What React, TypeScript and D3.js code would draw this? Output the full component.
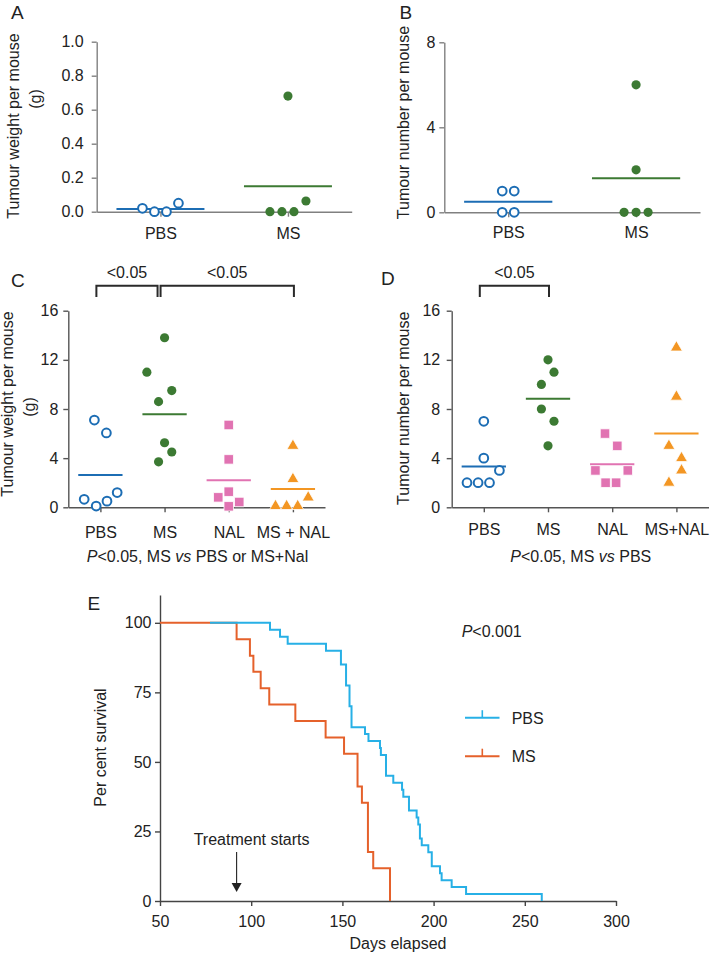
import React, { useEffect, useRef } from "react";
import * as d3 from "d3";

const FONT = "'Liberation Sans', Arial, Helvetica, sans-serif";

// ---------- A / B: PBS vs MS ----------
const groupsAB = ["PBS", "MS"];
const weightA = [
  [0.02, 0.0, 0.0, 0.05], // PBS
  [0.68, 0.0, 0.0, 0.0, 0.063], // MS
];
const weightMeansA = [0.016, 0.15];
const numberB = [
  [1, 1, 0, 0],
  [6, 2, 0, 0, 0],
];
const numberMeansB = [0.5, 1.6];

// ---------- C / D: four treatment groups ----------
const groupsC = ["PBS", "MS", "NAL", "MS + NAL"];
const groupsD = ["PBS", "MS", "NAL", "MS+NAL"];
const weightC = [
  [7.1, 6.05, 0.65, 0.1, 0.5, 1.2],
  [13.8, 11.0, 9.5, 8.6, 5.25, 4.5, 3.7],
  [6.7, 3.9, 1.27, 0.81, 0.43, 0.08],
  [5.0, 2.3, 0.8, 0.1, 0.1, 0.1],
];
const weightMeansC = [2.62, 7.57, 2.2, 1.48];
const numberD = [
  [7, 4, 3, 2, 2, 2],
  [12, 11, 10, 8, 7, 5],
  [6, 5, 3, 3, 2, 2],
  [13, 9, 5, 4, 3, 2],
];
const numberMeansD = [3.33, 8.83, 3.5, 6.0];

// sideways spread of overlapping points, in marker half-widths (as placed in the figure)
const spreadA = [
  [-3, -1, 1, 3],
  [0, -3, -1, 1, 3],
];
const spreadB = [
  [-1, 1, -1, 1],
  [0, 0, -2, 0, 2],
];
const spreadC = [
  [-1, 1, -2.7, -0.7, 1.1, 2.8],
  [0, -2.95, 1.2, -1, 0, 1.2, -1],
  [0, 0, 0, -1.75, 1.75, 0],
  [0, 0, 2.55, -2.9, -1.05, 0.8],
];
const spreadD = [
  [0, 0, 2.6, -2.8, -0.95, 0.95],
  [0, 1, -1.1, -1.1, 1, 0],
  [-1.2, 0.85, -2.8, 2.6, -1.1, 0.65],
  [0, 0, -1.25, 0.85, 0.85, -1.25],
];

const markShapes = ["open", "filled", "square", "triangle"];
const markColors = ["#1c6db4", "#3c7a33", "#e173b2", "#f39623"];

// ---------- E: survival ----------
const msDays = [50, 92, 99.3, 101.2, 105.2, 109.9, 124.2, 140.8, 150.9, 158.3, 160.7, 164, 166.9, 176.1];
const msSurvival = [100, 94.1, 88.2, 82.4, 76.5, 70.6, 64.7, 58.8, 52.9, 41.2, 35.3, 17.6, 11.8, 0];
const pbsDays = [
  77.4, 110.3, 115.8, 120, 141, 149.2, 152, 153.9, 155, 162.4, 164.3, 170.6, 171.1, 173.9, 177.9,
  182.7, 183.4, 186.5, 190.7, 191.6, 192.5, 193.5, 197.1, 199, 203.5, 204.4, 209.9, 217.8, 259.3,
];
const pbsSurvival = [
  100, 97.5, 95, 92.5, 90, 85, 77.5, 70, 62.5, 60, 57.5, 55, 52.5, 45, 42.5, 40, 37.5, 32.5, 30,
  27.5, 22.5, 20, 17.5, 12.5, 10, 7.5, 5, 2.5, 0,
];
const survivalTicks = [0, 25, 50, 75, 100];
const dayTicks = [50, 100, 150, 200, 250, 300];
const treatmentDay = 92;

const App = () => {
  const svgRef = useRef(null);

  useEffect(() => {
    const svg = d3.select(svgRef.current);
    svg.selectAll("*").remove();

    const styleAxis = (a, color) => {
      a.attr("font-family", FONT).attr("font-size", 16);
      a.selectAll("path, line").attr("stroke", color).attr("stroke-width", 1.4);
      a.selectAll("text").attr("fill", "#222");
    };

    const richText = (x, y, parts, anchor = "middle", size = 16) => {
      const t = svg
        .append("text")
        .attr("x", x)
        .attr("y", y)
        .attr("text-anchor", anchor)
        .attr("font-family", FONT)
        .attr("font-size", size)
        .attr("fill", "#222");
      parts.forEach(([s, italic]) => {
        t.append("tspan").attr("font-style", italic ? "italic" : "normal").text(s);
      });
    };

    const vLabel = (x, y, s) => {
      svg
        .append("text")
        .attr("transform", `translate(${x},${y}) rotate(-90)`)
        .attr("text-anchor", "middle")
        .attr("font-family", FONT)
        .attr("font-size", 16)
        .attr("fill", "#222")
        .text(s);
    };

    const letter = (x, y, s) => {
      svg
        .append("text")
        .attr("x", x)
        .attr("y", y)
        .attr("font-family", FONT)
        .attr("font-size", 19)
        .attr("fill", "#222")
        .text(s);
    };

    const dotPanel = (p) => {
      const x = d3.scalePoint().domain(p.groups).range(p.xRange).padding(0.5);
      const y = d3.scaleLinear().domain(p.domain).range(p.yRange);
      const spread = d3.scaleLinear().domain([0, 1]).range([0, 6]);
      const g = svg.append("g");

      const ya = g
        .append("g")
        .attr("transform", `translate(${p.xRange[0]},0)`)
        .call(
          d3
            .axisLeft(y)
            .tickValues(p.ticks)
            .tickFormat(p.format)
            .tickSize(5)
            .tickPadding(p.yLabelGap)
            .tickSizeOuter(0),
        );
      const xa = g
        .append("g")
        .attr("transform", `translate(0,${p.yRange[0]})`)
        .call(d3.axisBottom(x).tickSize(5).tickPadding(p.labelGap).tickSizeOuter(0));
      styleAxis(ya, p.axisColor);
      styleAxis(xa, p.axisColor);

      const half = x.step() * 0.345;
      p.groups.forEach((name, i) => {
        const cx = x(name);
        const color = markColors[i];
        const shape = markShapes[i];

        g.append("line")
          .attr("x1", cx - half)
          .attr("x2", cx + half)
          .attr("y1", y(p.means[i]))
          .attr("y2", y(p.means[i]))
          .attr("stroke", color)
          .attr("stroke-width", 2);

        const symType =
          shape === "square" ? d3.symbolSquare : shape === "triangle" ? d3.symbolTriangle : d3.symbolCircle;
        const symSize = shape === "square" ? 90 : shape === "triangle" ? 62 : shape === "open" ? 60 : 66;

        g.append("g")
          .selectAll("path")
          .data(d3.zip(p.values[i], p.spread[i]))
          .join("path")
          .attr("d", d3.symbol(symType, symSize))
          .attr("transform", (d) => `translate(${cx + spread(d[1])},${y(d[0])})`)
          .attr("fill", shape === "open" ? "#fff" : color)
          .attr("stroke", shape === "open" ? color : shape === "filled" ? "none" : "#fff")
          .attr("stroke-width", shape === "open" ? 2 : 0.8);
      });

      (p.brackets || []).forEach(([from, to], k) => {
        const sharedEnd = p.brackets.some(([f]) => f === to);
        const x1 = x(from) - 4;
        const x2 = sharedEnd ? x(to) - 7 : x(to) + 1;
        g.append("path")
          .attr("d", `M${x1},297 V285.7 H${x2} V297`)
          .attr("fill", "none")
          .attr("stroke", "#2a2a2a")
          .attr("stroke-width", 2);
        g.append("text")
          .attr("x", (x1 + x2) / 2)
          .attr("y", 278.3)
          .attr("text-anchor", "middle")
          .attr("font-family", FONT)
          .attr("font-size", 16)
          .attr("fill", "#222")
          .text(p.bracketLabels[k]);
      });
    };

    // A
    dotPanel({
      groups: groupsAB,
      values: weightA,
      spread: spreadA,
      means: weightMeansA,
      xRange: [96.7, 351.7],
      yRange: [211.7, 41.7],
      domain: [0, 1],
      ticks: [0, 0.2, 0.4, 0.6, 0.8, 1.0],
      format: d3.format(".1f"),
      labelGap: 11,
      yLabelGap: 8,
      axisColor: "#808080",
    });
    letter(11, 18.5, "A");
    vLabel(19, 126, "Tumour weight per mouse");
    vLabel(41, 99, "(g)");

    // B
    dotPanel({
      groups: groupsAB,
      values: numberB,
      spread: spreadB,
      means: numberMeansB,
      xRange: [444.3, 700],
      yRange: [212.3, 42.3],
      domain: [0, 8],
      ticks: [0, 4, 8],
      format: d3.format("d"),
      labelGap: 9.5,
      yLabelGap: 4,
      axisColor: "#808080",
    });
    letter(399.5, 18.5, "B");
    vLabel(409, 122.5, "Tumour number per mouse");

    // C
    dotPanel({
      groups: groupsC,
      values: weightC,
      spread: spreadC,
      means: weightMeansC,
      xRange: [68.3, 325],
      yRange: [507.3, 310.7],
      domain: [0, 16],
      ticks: [0, 4, 8, 12, 16],
      format: d3.format("d"),
      labelGap: 14.2,
      yLabelGap: 5,
      axisColor: "#555",
      brackets: [
        ["PBS", "MS"],
        ["MS", "MS + NAL"],
      ],
      bracketLabels: ["<0.05", "<0.05"],
    });
    letter(11, 286.7, "C");
    vLabel(13, 404, "Tumour weight per mouse");
    vLabel(34.5, 407, "(g)");
    richText(197.5, 562, [
      ["P", true],
      ["<0.05, MS ", false],
      ["vs", true],
      [" PBS or MS+Nal", false],
    ]);

    // D
    dotPanel({
      groups: groupsD,
      values: numberD,
      spread: spreadD,
      means: numberMeansD,
      xRange: [451.7, 708.5],
      yRange: [507.3, 310.7],
      domain: [0, 16],
      ticks: [0, 4, 8, 12, 16],
      format: d3.format("d"),
      labelGap: 11,
      yLabelGap: 6.5,
      axisColor: "#555",
      brackets: [["PBS", "MS"]],
      bracketLabels: ["<0.05"],
    });
    letter(381, 285, "D");
    vLabel(409, 408.3, "Tumour number per mouse");
    richText(580.8, 562, [
      ["P", true],
      ["<0.05, MS ", false],
      ["vs", true],
      [" PBS", false],
    ]);

    // E – Kaplan–Meier curves
    const xE = d3.scaleLinear().domain([50, 300]).range([160, 616]);
    const yE = d3.scaleLinear().domain([0, 110]).range([901, 595]);
    const gE = svg.append("g");
    const yaE = gE
      .append("g")
      .attr("transform", `translate(${xE(50)},0)`)
      .call(d3.axisLeft(yE).tickValues(survivalTicks).tickSize(5).tickPadding(3.5).tickSizeOuter(0));
    const xaE = gE
      .append("g")
      .attr("transform", `translate(0,${yE(0)})`)
      .call(d3.axisBottom(xE).tickValues(dayTicks).tickSize(5).tickPadding(9.3).tickSizeOuter(0));
    styleAxis(yaE, "#444");
    styleAxis(xaE, "#444");

    const series = [
      { name: "MS", days: msDays, surv: msSurvival, color: "#e5612b" },
      { name: "PBS", days: pbsDays, surv: pbsSurvival, color: "#27b0e6" },
    ];
    const step = d3
      .line()
      .x((d) => xE(d[0]))
      .y((d) => yE(d[1]))
      .curve(d3.curveStepAfter);
    series.forEach((s) => {
      gE.append("path")
        .attr("d", step(d3.zip(s.days, s.surv)))
        .attr("fill", "none")
        .attr("stroke", s.color)
        .attr("stroke-width", 2);
    });

    // legend (PBS first)
    [series[1], series[0]].forEach((s, i) => {
      const ly = 717.7 + i * 38.5;
      gE.append("line").attr("x1", 465).attr("x2", 499.5).attr("y1", ly).attr("y2", ly)
        .attr("stroke", s.color).attr("stroke-width", 2);
      gE.append("line").attr("x1", 482.3).attr("x2", 482.3).attr("y1", ly).attr("y2", ly - 7.5)
        .attr("stroke", s.color).attr("stroke-width", 1.6);
      gE.append("text").attr("x", 511.7).attr("y", ly + 6).attr("font-family", FONT)
        .attr("font-size", 16).attr("fill", "#222").text(s.name);
    });

    richText(461.7, 637, [["P", true], ["<0.001", false]], "start");

    // treatment arrow
    const ax = xE(treatmentDay);
    gE.append("line").attr("x1", ax).attr("x2", ax).attr("y1", 852).attr("y2", 885)
      .attr("stroke", "#222").attr("stroke-width", 1.1);
    gE.append("path").attr("d", `M${ax - 5},883 L${ax + 5},883 L${ax},892 Z`).attr("fill", "#222");
    richText(ax + 15, 845, [["Treatment starts", false]]);

    letter(87.5, 610, "E");
    vLabel(105.5, 747.5, "Per cent survival");
    richText(398, 949, [["Days elapsed", false]]);
  }, []);

  return (
    <svg
      ref={svgRef}
      width={710}
      height={955}
      style={{ position: "absolute", left: 0, top: 0, background: "#fff" }}
    />
  );
};

export default App;
